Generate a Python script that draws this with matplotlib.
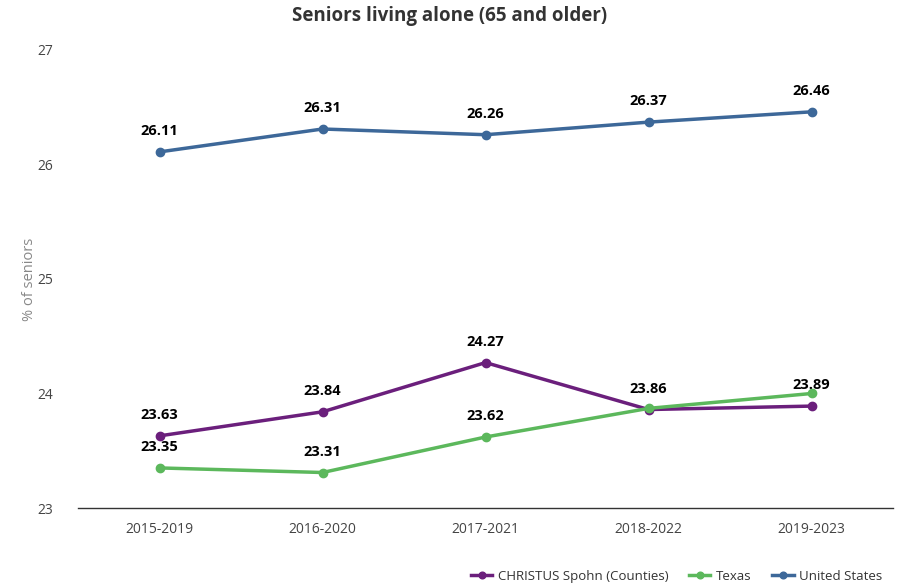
import matplotlib.pyplot as plt

plt.rcParams['font.family'] = ['Open Sans', 'DejaVu Sans']

periods = ['2015-2019', '2016-2020', '2017-2021', '2018-2022', '2019-2023']
spohn = [23.63, 23.84, 24.27, 23.86, 23.89]
texas = [23.35, 23.31, 23.62, 23.87, 24.00]
us = [26.11, 26.31, 26.26, 26.37, 26.46]

# which points carry a value label (overlapping ones are hidden in the original)
spohn_labels = [True, True, True, True, True]
texas_labels = [True, True, True, False, False]
us_labels = [True, True, True, True, True]

series = [
    ('CHRISTUS Spohn (Counties)', spohn, spohn_labels, '#6b1f7c'),
    ('Texas', texas, texas_labels, '#5cb85c'),
    ('United States', us, us_labels, '#3d6899'),
]

fig = plt.figure(figsize=(9.03, 5.86), dpi=100)
ax = fig.add_axes([0.0864, 0.1331, 0.9026, 0.7816])

x = list(range(len(periods)))
for name, vals, show, color in series:
    ax.plot(x, vals, color=color, linewidth=2.5, marker='o', markersize=6,
            label=name)
    for xi, v, s in zip(x, vals, show):
        if s:
            ax.annotate(f'{v:.2f}', (xi, v), xytext=(0, 10),
                        textcoords='offset points', ha='center', va='bottom',
                        fontsize=10.5, fontweight='bold', color='black')

ax.set_xlim(-0.5, 4.5)
ax.set_ylim(23, 27)
ax.set_yticks([23, 24, 25, 26, 27])
ax.set_xticks(x)
ax.set_xticklabels(periods)
ax.tick_params(axis='both', length=0, labelsize=10, colors='#444444')
ax.tick_params(axis='x', pad=10)
ax.tick_params(axis='y', pad=18)
for side in ['top', 'right', 'left']:
    ax.spines[side].set_visible(False)
ax.spines['bottom'].set_color('#333333')
ax.spines['bottom'].set_linewidth(1)
ax.set_ylabel('% of seniors', fontsize=10.5, color='#888888')
ax.yaxis.set_label_coords(-0.05, 0.5)

fig.suptitle('Seniors living alone (65 and older)', x=0.498, y=0.99,
             fontsize=13.5, fontweight='bold', color='#333333')

fig.legend(loc='lower right', bbox_to_anchor=(0.99, -0.015), ncol=3,
           frameon=False, fontsize=9.5, handlelength=1.6, columnspacing=1.6,
           handletextpad=0.4, labelcolor='#333333', markerscale=0.8)

fig.savefig('out.png', dpi=100)
